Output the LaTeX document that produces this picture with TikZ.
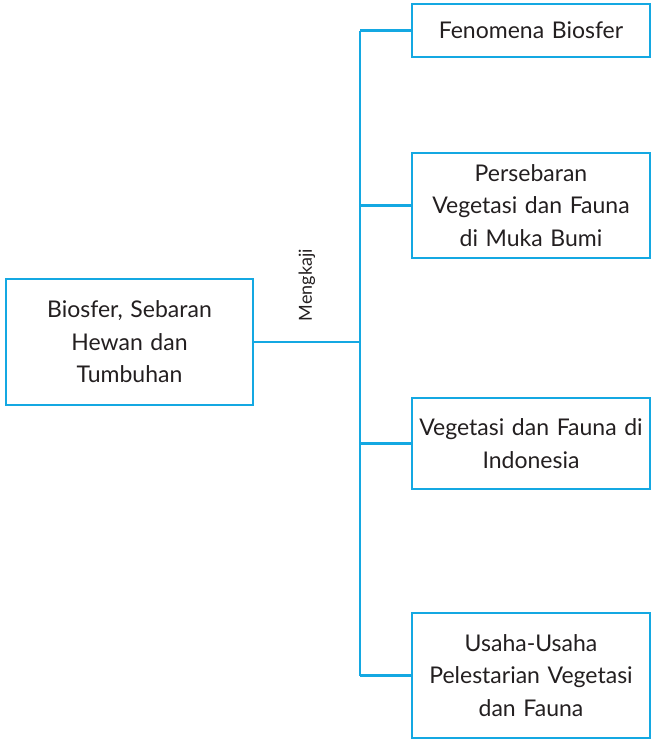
\documentclass[tikz,border=0pt]{standalone}
\usepackage{fontspec}
\setmainfont{Lato}
\definecolor{lineblue}{RGB}{20,168,226}
\definecolor{txt}{RGB}{35,31,32}
\begin{document}
\begin{tikzpicture}[x=1pt,y=-1pt,
  box/.style={draw=lineblue,line width=2.6pt,inner sep=0pt,align=center,
    font=\fontsize{23}{32.5}\selectfont,text=txt},
  link/.style={draw=lineblue,line width=2.2pt}]
\useasboundingbox (0,0) rectangle (653,744);
\node[box,minimum width=247pt,minimum height=126pt,text width=240pt] (root) at (129.5,342) {Biosfer, Sebaran\\Hewan dan\\Tumbuhan};
\node[box,minimum width=238pt,minimum height=53pt,text width=236pt] (b1) at (531,30.5) {Fenomena Biosfer};
\node[box,minimum width=238pt,minimum height=105pt,text width=236pt] (b2) at (531,205.5) {Persebaran\\Vegetasi dan Fauna\\di Muka Bumi};
\node[box,minimum width=238pt,minimum height=91pt,text width=236pt] (b3) at (531,443.5) {Vegetasi dan Fauna di\\Indonesia};
\node[box,minimum width=238pt,minimum height=125pt,text width=236pt] (b4) at (531,675.5) {Usaha-Usaha\\Pelestarian Vegetasi\\dan Fauna};
\coordinate (top) at (360,30.5);
\coordinate (bot) at (360,675.5);
\draw[link] (top) -- (bot);
\draw[link] (root.east) -- (root.east -| top);
\draw[link] (b1.west) -- (top);
\draw[link] (b2.west) -- (b2.west -| top);
\draw[link] (b3.west) -- (b3.west -| top);
\draw[link] (b4.west) -- (bot);
\node[rotate=90,font=\fontsize{18}{20}\selectfont,text=txt,inner sep=0pt] (lbl) at (307,285) {Mengkaji};
\end{tikzpicture}
\end{document}
